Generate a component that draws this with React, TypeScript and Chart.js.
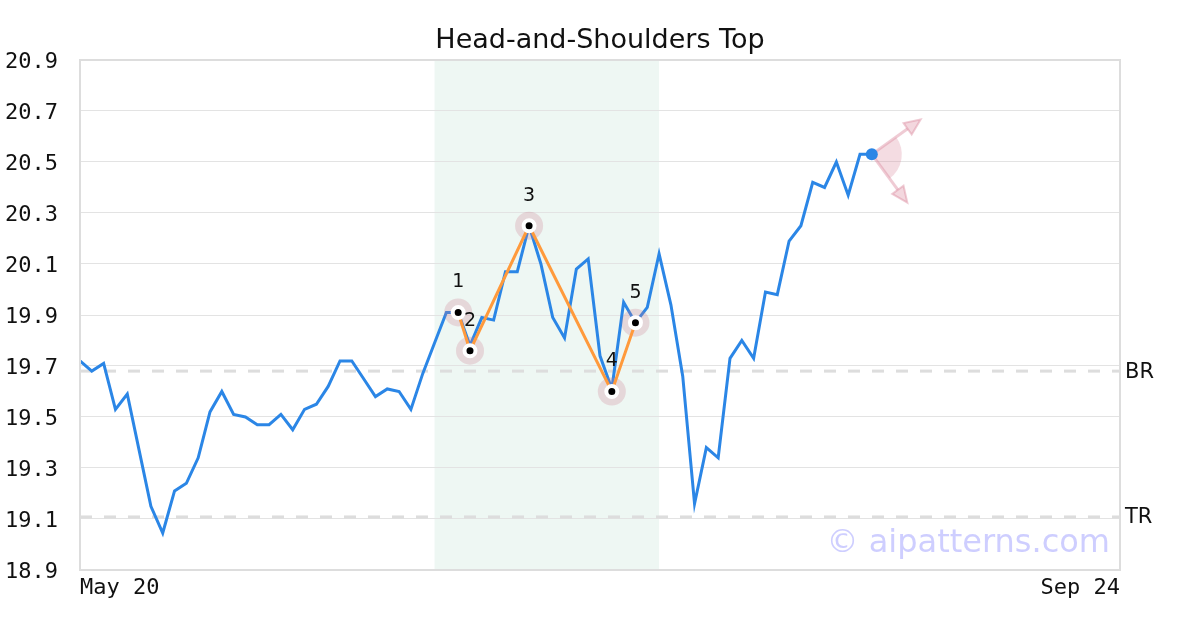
import React, { useEffect, useRef } from "react";
import { Chart, registerables } from "chart.js";

Chart.register(...registerables);

const TITLE = "Head-and-Shoulders Top";
const X_START_LABEL = "May 20";
const X_END_LABEL = "Sep 24";
const SLOT_COUNT = 89;

const prices = [
  19.72, 19.68, 19.71, 19.53, 19.59, 19.37, 19.15, 19.045, 19.21, 19.24,
  19.34, 19.52, 19.6, 19.51, 19.5, 19.47, 19.47, 19.51, 19.45, 19.53,
  19.55, 19.62, 19.72, 19.72, 19.65, 19.58, 19.61, 19.6, 19.53, 19.67,
  19.79, 19.91, 19.91, 19.78, 19.89, 19.88, 20.07, 20.07, 20.25, 20.1,
  19.89, 19.81, 20.08, 20.12, 19.74, 19.61, 19.95, 19.87, 19.93, 20.14,
  19.94, 19.66, 19.16, 19.38, 19.34, 19.73, 19.8, 19.73, 19.99, 19.98,
  20.19, 20.25, 20.42, 20.4, 20.5, 20.37, 20.53, 20.53,
];

const patternIndex = [32, 33, 38, 45, 47];
const patternValues = [19.91, 19.76, 20.25, 19.6, 19.87];
const patternLabels = ["1", "2", "3", "4", "5"];

const zoneFrom = 30;
const zoneTo = 49;

const levelValues = [19.68, 19.108];
const levelLabels = ["BR", "TR"];

const Y_MIN = 18.9;
const Y_MAX = 20.9;
const Y_STEP = 0.2;

const WATERMARK = "\u00a9 aipatterns.com";

const SANS = "'DejaVu Sans', sans-serif";
const MONO = "'DejaVu Sans Mono', monospace";

export default function App() {
  const ref = useRef<HTMLCanvasElement | null>(null);

  useEffect(() => {
    const canvas = ref.current;
    if (!canvas) return;

    const labels = Array.from({ length: SLOT_COUNT }, (_, i) =>
      i === 0 ? X_START_LABEL : i === SLOT_COUNT - 1 ? X_END_LABEL : ""
    );
    const patternData: (number | null)[] = Array.from({ length: SLOT_COUNT }, () => null);
    patternIndex.forEach((idx, k) => {
      patternData[idx] = patternValues[k];
    });
    const lastIdx = prices.length - 1;

    const decor = {
      id: "decor",
      beforeDraw(chart: any) {
        const { ctx, chartArea: a, scales } = chart;
        const x0 = scales.x.getPixelForValue(zoneFrom);
        const x1 = scales.x.getPixelForValue(zoneTo);
        ctx.save();
        ctx.fillStyle = "#eef7f3";
        ctx.fillRect(x0, a.top, x1 - x0, a.bottom - a.top);
        ctx.restore();
      },
      beforeDatasetsDraw(chart: any) {
        const { ctx, chartArea: a, scales } = chart;
        ctx.save();
        // watermark
        ctx.font = `32px ${SANS}`;
        ctx.fillStyle = "rgba(190,190,255,0.75)";
        ctx.textAlign = "right";
        ctx.textBaseline = "alphabetic";
        ctx.fillText(WATERMARK, a.right - 10, a.bottom - 18);
        // level lines
        levelValues.forEach((v, k) => {
          const y = scales.y.getPixelForValue(v);
          ctx.beginPath();
          ctx.setLineDash([12, 12]);
          ctx.strokeStyle = "#dddddd";
          ctx.lineWidth = 3;
          ctx.moveTo(a.left, y);
          ctx.lineTo(a.right, y);
          ctx.stroke();
          ctx.setLineDash([]);
          ctx.font = `21px ${SANS}`;
          ctx.fillStyle = "#111111";
          ctx.textAlign = "left";
          ctx.textBaseline = "middle";
          ctx.fillText(levelLabels[k], a.right + 5, y + 1);
        });
        // projection fan at last point
        const cx = scales.x.getPixelForValue(lastIdx);
        const cy = scales.y.getPixelForValue(prices[lastIdx]);
        const angUp = Math.atan2(-35, 49);
        const angDown = Math.atan2(49, 36);
        const len = 60;
        ctx.fillStyle = "rgba(220,140,160,0.3)";
        ctx.beginPath();
        ctx.moveTo(cx, cy);
        ctx.arc(cx, cy, 30, angUp, angDown);
        ctx.closePath();
        ctx.fill();
        [angUp, angDown].forEach((ang) => {
          const tx = cx + Math.cos(ang) * len;
          const ty = cy + Math.sin(ang) * len;
          const hl = 16;
          const hw = 7;
          const bx = tx - Math.cos(ang) * hl;
          const by = ty - Math.sin(ang) * hl;
          ctx.strokeStyle = "rgba(220,140,160,0.45)";
          ctx.lineWidth = 3;
          ctx.beginPath();
          ctx.moveTo(cx, cy);
          ctx.lineTo(bx, by);
          ctx.stroke();
          ctx.beginPath();
          ctx.moveTo(tx, ty);
          ctx.lineTo(bx - Math.sin(ang) * hw, by + Math.cos(ang) * hw);
          ctx.lineTo(bx + Math.sin(ang) * hw, by - Math.cos(ang) * hw);
          ctx.closePath();
          ctx.fillStyle = "rgba(220,140,160,0.35)";
          ctx.fill();
          ctx.lineWidth = 2;
          ctx.stroke();
        });
        ctx.restore();
      },
      afterDatasetsDraw(chart: any) {
        const { ctx, scales } = chart;
        ctx.save();
        ctx.font = `19px ${SANS}`;
        ctx.fillStyle = "#111111";
        ctx.textAlign = "center";
        ctx.textBaseline = "middle";
        patternIndex.forEach((idx, k) => {
          const px = scales.x.getPixelForValue(idx);
          const py = scales.y.getPixelForValue(patternValues[k]);
          ctx.fillText(patternLabels[k], px, py - 30);
        });
        ctx.restore();
      },
      afterDraw(chart: any) {
        const { ctx, chartArea: a, width } = chart;
        ctx.save();
        ctx.strokeStyle = "#dddddd";
        ctx.lineWidth = 2;
        ctx.strokeRect(a.left, a.top, a.right - a.left, a.bottom - a.top);
        ctx.font = `27px ${SANS}`;
        ctx.fillStyle = "#111111";
        ctx.textAlign = "center";
        ctx.textBaseline = "alphabetic";
        ctx.fillText(TITLE, width / 2, 48);
        ctx.restore();
      },
    };

    const chart = new Chart(canvas, {
      type: "line",
      data: {
        labels,
        datasets: [
          {
            data: patternData,
            showLine: false,
            spanGaps: true,
            pointRadius: 14,
            pointHoverRadius: 14,
            pointBackgroundColor: "rgba(205,120,140,0.25)",
            pointBorderWidth: 0,
            order: 2,
          } as any,
          {
            data: patternData,
            spanGaps: true,
            borderColor: "#ff9a3c",
            borderWidth: 3,
            pointRadius: 5.5,
            pointBackgroundColor: "#000000",
            pointBorderColor: "#ffffff",
            pointBorderWidth: 4,
            order: 1,
          } as any,
          {
            data: prices,
            borderColor: "#2b86e6",
            borderWidth: 3,
            tension: 0,
            pointRadius: (c: any) => (c.dataIndex === lastIdx ? 6 : 0),
            pointBackgroundColor: "#2b86e6",
            pointBorderWidth: 0,
            order: 3,
          } as any,
        ],
      },
      options: {
        animation: false,
        responsive: false,
        devicePixelRatio: 1,
        layout: { padding: { top: 60, right: 80, left: 0, bottom: 0 } },
        plugins: {
          legend: { display: false },
          tooltip: { enabled: false },
          title: { display: false },
        },
        scales: {
          x: {
            type: "category",
            offset: false,
            grid: { display: false, drawTicks: false },
            border: { display: false },
            ticks: {
              autoSkip: false,
              maxRotation: 0,
              minRotation: 0,
              align: "inner",
              padding: 5,
              color: "#111111",
              font: { family: MONO, size: 22 },
            },
            afterFit(scale: any) {
              scale.height = 60;
            },
          },
          y: {
            min: Y_MIN,
            max: Y_MAX,
            grid: { color: "#e3e3e3", lineWidth: 1, drawTicks: false },
            border: { display: false },
            ticks: {
              stepSize: Y_STEP,
              padding: 22,
              labelOffset: 2,
              color: "#111111",
              font: { family: MONO, size: 22 },
              callback: (v: any) => Number(v).toFixed(1),
            },
            afterFit(scale: any) {
              scale.width = 80;
            },
          },
        },
      },
      plugins: [decor],
    } as any);

    return () => chart.destroy();
  }, []);

  return (
    <div style={{ position: "absolute", left: 0, top: 0, width: 1200, height: 630, background: "#ffffff" }}>
      <canvas ref={ref} width={1200} height={630} style={{ width: 1200, height: 630, display: "block" }} />
    </div>
  );
}
